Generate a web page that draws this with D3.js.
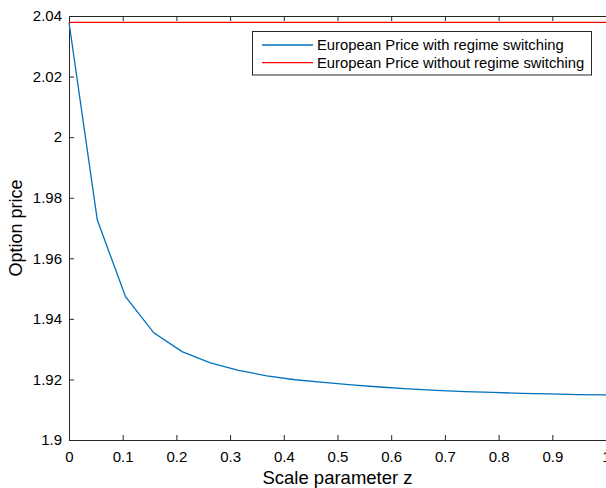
<!DOCTYPE html>
<html>
<head>
<meta charset="utf-8">
<script src="https://cdn.jsdelivr.net/npm/d3@7"></script>
<style>
  body { margin: 0; background: #fff; }
  svg { display: block; font-family: "Liberation Sans", Arial, sans-serif; }
</style>
</head>
<body>
<div id="chart"></div>
<script>
// scale parameter z, 20 steps from 0 to 1
const zValues = d3.range(20).map(i => i / 19);
// price with regime switching
const priceSwitching = [2.0379, 1.9727, 1.9473, 1.9354, 1.9292, 1.9255, 1.9230, 1.9212, 1.9199, 1.9190,
                        1.9182, 1.9175, 1.9169, 1.9164, 1.9160, 1.9157, 1.9154, 1.9152, 1.9150, 1.9149];
// price without regime switching (constant)
const priceNoSwitching = 2.0379;
const xTicks = [0, 0.1, 0.2, 0.3, 0.4, 0.5, 0.6, 0.7, 0.8, 0.9, 1];
const yTicks = [1.9, 1.92, 1.94, 1.96, 1.98, 2, 2.02, 2.04];
const legendLabels = ["European Price with regime switching", "European Price without regime switching"];

const width = 606, height = 488;
const plotLeft = 69, plotRight = 606, plotTop = 16, plotBottom = 440;

const svg = d3.select("#chart").append("svg")
    .attr("width", width)
    .attr("height", height);

const x = d3.scaleLinear().domain([0, 1]).range([plotLeft, plotRight]);
const y = d3.scaleLinear().domain([1.9, 2.04]).range([plotBottom, plotTop]);

const axisColor = "#262626";

// bottom axis
const gx = svg.append("g")
    .attr("transform", `translate(0,${plotBottom})`)
    .call(d3.axisBottom(x).tickValues(xTicks).tickFormat(d3.format("")).tickSizeInner(-5).tickSizeOuter(0).tickPadding(11));
// top axis (ticks only)
const gxt = svg.append("g")
    .attr("transform", `translate(0,${plotTop})`)
    .call(d3.axisTop(x).tickValues(xTicks).tickFormat("").tickSizeInner(-5).tickSizeOuter(0));
// left axis
const gy = svg.append("g")
    .attr("transform", `translate(${plotLeft},0)`)
    .call(d3.axisLeft(y).tickValues(yTicks).tickFormat(d3.format("")).tickSizeInner(-5).tickSizeOuter(0).tickPadding(7));

[gx, gxt, gy].forEach(g => {
    g.selectAll(".domain").attr("stroke", axisColor).attr("stroke-width", 1);
    g.selectAll(".tick line").attr("stroke", axisColor);
    g.selectAll(".tick text").attr("fill", "#000").style("font-size", "15px");
});

// lines
const line = d3.line()
    .x((d, i) => x(zValues[i]))
    .y(d => y(d));

svg.append("path")
    .datum(priceSwitching)
    .attr("fill", "none")
    .attr("stroke", "#0072BD")
    .attr("stroke-width", 1.3)
    .attr("d", line);

svg.append("path")
    .datum(zValues.map(() => priceNoSwitching))
    .attr("fill", "none")
    .attr("stroke", "#FF0000")
    .attr("stroke-width", 1.3)
    .attr("d", line);

// axis titles
svg.append("text")
    .attr("x", (plotLeft + plotRight) / 2)
    .attr("y", 484)
    .attr("text-anchor", "middle")
    .style("font-size", "18.5px")
    .attr("fill", "#000")
    .text("Scale parameter z");

svg.append("text")
    .attr("transform", `translate(22,${(plotTop + plotBottom) / 2}) rotate(-90)`)
    .attr("text-anchor", "middle")
    .style("font-size", "18px")
    .attr("fill", "#000")
    .text("Option price");

// legend
const legend = svg.append("g");
legend.append("rect")
    .attr("x", 252.5).attr("y", 31.5)
    .attr("width", 339).attr("height", 43.5)
    .attr("fill", "#fff")
    .attr("stroke", axisColor);

const legendColors = ["#0072BD", "#FF0000"];
legendLabels.forEach((lab, i) => {
    const ly = 45 + i * 17.7;
    legend.append("line")
        .attr("x1", 262).attr("x2", 313)
        .attr("y1", ly).attr("y2", ly)
        .attr("stroke", legendColors[i])
        .attr("stroke-width", 1.3);
    legend.append("text")
        .attr("x", 317).attr("y", ly)
        .attr("dy", "0.35em")
        .style("font-size", "14.8px")
        .attr("fill", "#000")
        .text(lab);
});
</script>
</body>
</html>
